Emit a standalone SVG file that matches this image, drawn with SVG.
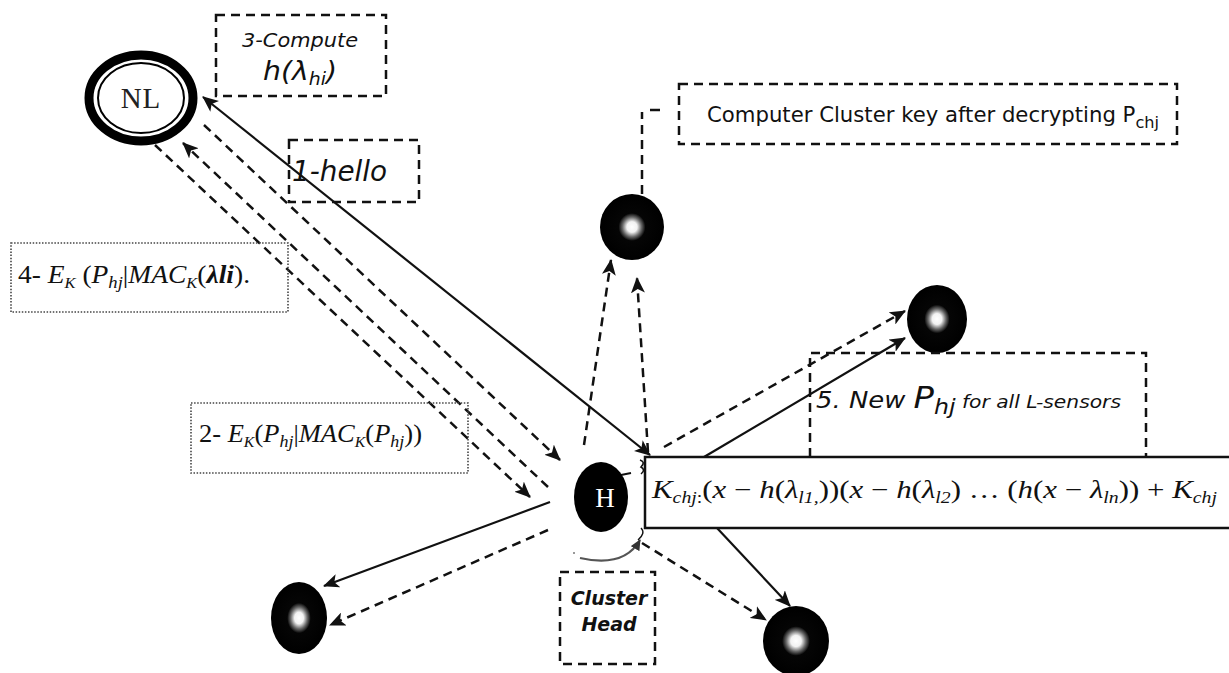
<svg xmlns="http://www.w3.org/2000/svg" width="1229" height="673" viewBox="0 0 1229 673">
  <style>
    .dash { fill: none; stroke: #111; stroke-width: 2.5; stroke-dasharray: 9 6; }
    .solid { fill: none; stroke: #111; stroke-width: 2.2; }
    .box { fill: none; stroke: #111; stroke-width: 2.5; stroke-dasharray: 9 6; }
    .dotbox { fill: none; stroke: #444; stroke-width: 1.6; stroke-dasharray: 1.5 1.6; }
    .sans { font-family: "DejaVu Sans", "Liberation Sans", sans-serif; fill: #111; }
    .serif { font-family: "Liberation Serif", "DejaVu Serif", serif; fill: #111; }
    .it { font-style: italic; }
    .bi { font-style: italic; font-weight: bold; }
    .sensor { fill: url(#core); }
  </style>
  <defs>
    <radialGradient id="core" cx="0.5" cy="0.5" r="0.5">
      <stop offset="0" stop-color="#ffffff"/>
      <stop offset="0.16" stop-color="#f2f2f2"/>
      <stop offset="0.3" stop-color="#666666"/>
      <stop offset="0.42" stop-color="#050505"/>
      <stop offset="1" stop-color="#000000"/>
    </radialGradient>
    <marker id="arrow" markerUnits="userSpaceOnUse" markerWidth="18" markerHeight="14" refX="15" refY="7" orient="auto-start-reverse">
      <path d="M0,0 L16,7 L0,14 L4,7 z" fill="#111"/>
    </marker>
    <marker id="arrowGray" markerUnits="userSpaceOnUse" markerWidth="12" markerHeight="10" refX="10" refY="5" orient="auto">
      <path d="M0,0 L11,5 L0,10 z" fill="#333"/>
    </marker>
  </defs>

  <!-- connectors -->
  <g id="connectors">
    <!-- hello / reply between NL and the cluster head -->
    <line class="solid" x1="203" y1="97" x2="650" y2="455" marker-start="url(#arrow)" marker-end="url(#arrow)"/>
    <line class="dash" x1="155" y1="145" x2="530" y2="497" marker-end="url(#arrow)"/>
    <line class="dash" x1="548" y1="487" x2="183" y2="143" marker-end="url(#arrow)"/>
    <line class="dash" x1="204" y1="125" x2="560" y2="460" marker-end="url(#arrow)"/>
    <!-- to the top sensor -->
    <line class="dash" x1="584" y1="445" x2="611" y2="260" marker-end="url(#arrow)"/>
    <line class="dash" x1="648" y1="452" x2="637" y2="278" marker-end="url(#arrow)"/>
    <path class="dash" d="M642 194 L642 112"/>
    <line x1="650" y1="110" x2="660" y2="110" stroke="#111" stroke-width="2.5"/>
    <!-- to the right sensor -->
    <line class="dash" x1="664" y1="447" x2="905" y2="311" marker-end="url(#arrow)"/>
    <line class="solid" x1="704" y1="457" x2="905" y2="338" marker-end="url(#arrow)"/>
    <!-- to the bottom-left sensor -->
    <line class="solid" x1="550" y1="502" x2="324" y2="586" marker-end="url(#arrow)"/>
    <line class="dash" x1="548" y1="530" x2="330" y2="625" marker-end="url(#arrow)"/>
    <!-- to the bottom-right sensor -->
    <line class="solid" x1="717" y1="528" x2="790" y2="606" marker-end="url(#arrow)"/>
    <line class="dash" x1="642" y1="543" x2="766" y2="620" marker-end="url(#arrow)"/>
    <!-- cluster head pointer -->
    <path d="M580 558 Q 624 568 640 540" fill="none" stroke="#555" stroke-width="2.2" marker-end="url(#arrowGray)"/>
    <circle cx="574" cy="553" r="1" fill="#777"/>
    <!-- small marks by the formula box -->
    <path d="M621 475 L631 473" stroke="#111" stroke-width="2" fill="none"/>
    <path d="M640 460 Q 646 462 641 467 Q 646 470 641 474" stroke="#111" stroke-width="1.6" fill="none"/>
    <path d="M641 528 Q 646 533 638 540" stroke="#111" stroke-width="1.4" fill="none"/>
  </g>

  <!-- network leader -->
  <g id="node-nl">
    <ellipse cx="141" cy="98" rx="52" ry="43" fill="#fff" stroke="#000" stroke-width="9"/>
    <ellipse cx="141" cy="98" rx="43" ry="35" fill="none" stroke="#000" stroke-width="2"/>
    <text x="141" y="108" class="serif" font-size="29" text-anchor="middle" letter-spacing="1" style="fill:#222">NL</text>
  </g>

  <!-- cluster head -->
  <g id="node-h">
    <ellipse cx="601" cy="497" rx="27" ry="35" fill="#000"/>
    <text x="605" y="507" class="serif" font-size="27" text-anchor="middle" style="fill:#fff">H</text>
  </g>

  <!-- sensor nodes -->
  <g id="node-top">
    <ellipse class="sensor" cx="632" cy="227" rx="32" ry="33"/>
  </g>
  <g id="node-right">
    <ellipse class="sensor" cx="937" cy="319" rx="30" ry="34"/>
  </g>
  <g id="node-bottom-left">
    <ellipse class="sensor" cx="299" cy="618" rx="28" ry="36"/>
  </g>
  <g id="node-bottom-right">
    <ellipse class="sensor" cx="796" cy="641" rx="33" ry="35"/>
  </g>

  <!-- step labels -->
  <g id="label-compute">
    <rect class="box" x="216" y="15" width="170" height="81"/>
    <text x="300" y="47" class="sans it" font-size="20" text-anchor="middle" textLength="116" lengthAdjust="spacingAndGlyphs">3-Compute</text>
    <text x="263" y="80" class="sans it" font-size="27" textLength="74" lengthAdjust="spacingAndGlyphs">h(λ<tspan font-size="18" dy="5">hi</tspan><tspan dy="-5">)</tspan></text>
  </g>

  <g id="label-hello">
    <rect class="box" x="289" y="140" width="130" height="62"/>
    <text x="292" y="181" class="sans it" font-size="28" textLength="95" lengthAdjust="spacingAndGlyphs">1-hello</text>
  </g>

  <g id="label-key">
    <rect class="box" x="679" y="84" width="498" height="60"/>
    <text x="707" y="122" class="sans" font-size="21" textLength="452" lengthAdjust="spacingAndGlyphs">Computer Cluster key after decrypting P<tspan font-size="16" dy="6">chj</tspan></text>
  </g>

  <g id="label-step4">
    <rect class="dotbox" x="11" y="243" width="277" height="69"/>
    <text x="18" y="283" class="serif" font-size="25" textLength="232" lengthAdjust="spacingAndGlyphs">4- <tspan class="it">E</tspan><tspan class="it" font-size="15" dy="5">K</tspan><tspan dy="-5"> (</tspan><tspan class="it">P</tspan><tspan class="it" font-size="17" dy="5">hj</tspan><tspan dy="-5">|</tspan><tspan class="it">MAC</tspan><tspan class="it" font-size="15" dy="5">K</tspan><tspan dy="-5">(</tspan><tspan class="bi">λli</tspan>).</text>
  </g>

  <g id="label-step2">
    <rect class="dotbox" x="191" y="403" width="277" height="70"/>
    <text x="199" y="442" class="serif" font-size="25" textLength="223" lengthAdjust="spacingAndGlyphs">2- <tspan class="it">E</tspan><tspan class="it" font-size="15" dy="5">K</tspan><tspan dy="-5">(</tspan><tspan class="it">P</tspan><tspan class="it" font-size="17" dy="5">hj</tspan><tspan dy="-5">|</tspan><tspan class="it">MAC</tspan><tspan class="it" font-size="15" dy="5">K</tspan><tspan dy="-5">(</tspan><tspan class="it">P</tspan><tspan class="it" font-size="17" dy="5">hj</tspan><tspan dy="-5">))</tspan></text>
  </g>

  <g id="label-step5">
    <path class="box" d="M810 457 L810 353 L1146 353 L1146 457"/>
    <text x="816" y="408" class="sans it" font-size="23" textLength="305" lengthAdjust="spacingAndGlyphs">5. New <tspan font-size="30">P</tspan><tspan font-size="21" dy="6">hj</tspan><tspan font-size="18" dy="-6"> for all L-sensors</tspan></text>
  </g>

  <g id="label-formula">
    <path d="M1229 457 L645 457 L645 528 L1229 528" fill="#fff" stroke="#111" stroke-width="2.5"/>
    <text x="652" y="498" class="serif" font-size="25" textLength="565" lengthAdjust="spacingAndGlyphs"><tspan class="it">K</tspan><tspan class="it" font-size="16" dy="5">chj</tspan><tspan font-size="16">:</tspan><tspan dy="-5">(</tspan><tspan class="it">x</tspan> − <tspan class="it">h</tspan>(<tspan class="it">λ</tspan><tspan class="it" font-size="16" dy="5">l1,</tspan><tspan dy="-5">))(</tspan><tspan class="it">x</tspan> − <tspan class="it">h</tspan>(<tspan class="it">λ</tspan><tspan class="it" font-size="16" dy="5">l2</tspan><tspan dy="-5">) … (</tspan><tspan class="it">h</tspan>(<tspan class="it">x</tspan> − <tspan class="it">λ</tspan><tspan class="it" font-size="16" dy="5">ln</tspan><tspan dy="-5">)) + </tspan><tspan class="it">K</tspan><tspan class="it" font-size="16" dy="5">chj</tspan></text>
  </g>

  <g id="label-cluster-head">
    <rect class="box" x="560" y="572" width="95" height="92"/>
    <text x="609" y="605" class="sans bi" font-size="19" text-anchor="middle">Cluster</text>
    <text x="609" y="631" class="sans bi" font-size="19" text-anchor="middle">Head</text>
  </g>
</svg>
